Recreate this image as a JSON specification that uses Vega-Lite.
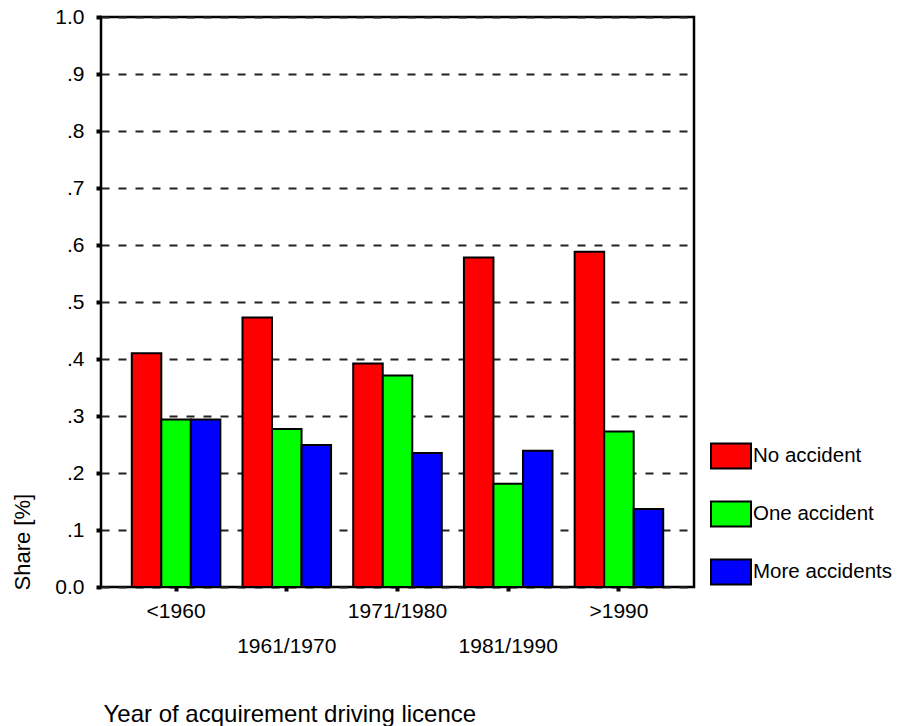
{
  "$schema": "https://vega.github.io/schema/vega-lite/v6.json",
  "autosize": {"type": "none"},
  "padding": {"left": 101, "top": 17, "right": 206, "bottom": 139},
  "width": 593,
  "height": 570,
  "background": "white",
  "config": {
    "font": "Liberation Sans",
    "view": {"stroke": "black", "strokeWidth": 2.5},
    "axis": {"labelColor": "black", "titleColor": "black", "titleFontWeight": "normal", "domain": false}
  },
  "data": {
    "values": [
      {"period": "<1960", "type": "No accident", "share": 0.41},
      {"period": "<1960", "type": "One accident", "share": 0.294},
      {"period": "<1960", "type": "More accidents", "share": 0.294},
      {"period": "1961/1970", "type": "No accident", "share": 0.473},
      {"period": "1961/1970", "type": "One accident", "share": 0.277},
      {"period": "1961/1970", "type": "More accidents", "share": 0.249},
      {"period": "1971/1980", "type": "No accident", "share": 0.392},
      {"period": "1971/1980", "type": "One accident", "share": 0.371},
      {"period": "1971/1980", "type": "More accidents", "share": 0.235},
      {"period": "1981/1990", "type": "No accident", "share": 0.578},
      {"period": "1981/1990", "type": "One accident", "share": 0.181},
      {"period": "1981/1990", "type": "More accidents", "share": 0.239},
      {"period": ">1990", "type": "No accident", "share": 0.588},
      {"period": ">1990", "type": "One accident", "share": 0.273},
      {"period": ">1990", "type": "More accidents", "share": 0.137}
    ]
  },
  "mark": {"type": "bar", "stroke": "black", "strokeWidth": 2, "opacity": 1},
  "encoding": {
    "x": {
      "field": "period",
      "type": "nominal",
      "sort": ["<1960", "1961/1970", "1971/1980", "1981/1990", ">1990"],
      "scale": {"paddingInner": 0.2, "paddingOuter": 0.278},
      "axis": {
        "title": "Year of acquirement driving licence",
        "titleFontSize": 24,
        "titleX": 2,
        "titleY": 134,
        "titleAlign": "left",
        "titleBaseline": "alphabetic",
        "titleAnchor": "start",
        "labelAngle": 0,
        "labelFontSize": 21,
        "labelBaseline": "top",
        "labelPadding": {"condition": {"test": "datum.value === '1961/1970' || datum.value === '1981/1990'", "value": 44}, "value": 9},
        "tickSize": 4,
        "tickWidth": 4,
        "tickColor": "black",
        "grid": false
      }
    },
    "xOffset": {
      "field": "type",
      "type": "nominal",
      "sort": ["No accident", "One accident", "More accidents"],
      "scale": {"paddingInner": 0, "paddingOuter": 0}
    },
    "y": {
      "field": "share",
      "type": "quantitative",
      "scale": {"domain": [0, 1], "nice": false},
      "axis": {
        "title": "Share [%]",
        "titleFontSize": 22,
        "titleAngle": -90,
        "titleX": -72,
        "titleY": 573,
        "titleAlign": "left",
        "titleBaseline": "alphabetic",
        "values": [0, 0.1, 0.2, 0.3, 0.4, 0.5, 0.6, 0.7, 0.8, 0.9, 1.0],
        "labelExpr": "datum.value == 0 ? '0.0' : datum.value == 1 ? '1.0' : replace(format(datum.value, '.1f'), '0.', '.')",
        "labelFontSize": 21,
        "labelPadding": 12,
        "tickSize": 5,
        "tickWidth": 4,
        "tickColor": "black",
        "grid": true,
        "gridColor": "#222222",
        "gridWidth": 2,
        "gridDash": [8, 9],
        "gridOpacity": 1
      }
    },
    "color": {
      "field": "type",
      "type": "nominal",
      "scale": {"domain": ["No accident", "One accident", "More accidents"], "range": ["#ff0000", "#00ff00", "#0000ff"]},
      "legend": {
        "title": null,
        "orient": "none",
        "legendX": 609,
        "legendY": 418,
        "padding": 0,
        "symbolType": "M-1,-0.625L1,-0.625L1,0.625L-1,0.625Z",
        "symbolSize": 1600,
        "symbolStrokeColor": "black",
        "symbolStrokeWidth": 2,
        "symbolOpacity": 1,
        "labelFontSize": 20.5,
        "labelColor": "black",
        "labelOffset": 1,
        "labelLimit": 200,
        "rowPadding": 20
      }
    }
  }
}
